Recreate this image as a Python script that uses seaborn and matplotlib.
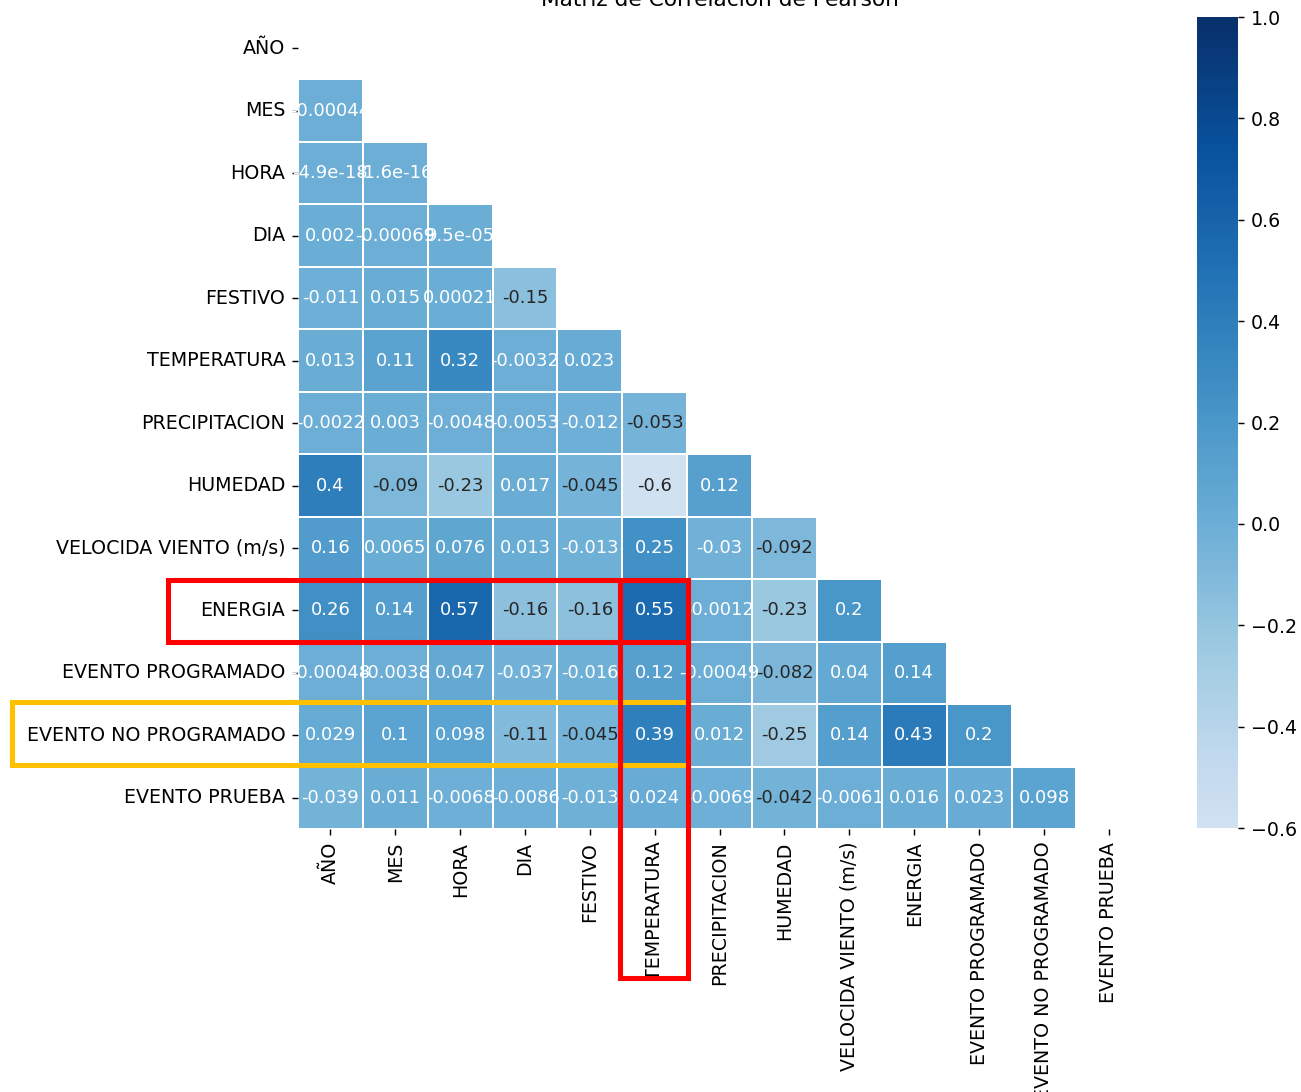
import numpy as np
import pandas as pd
import matplotlib
matplotlib.use('Agg')
import matplotlib.pyplot as plt
from matplotlib.patches import Rectangle
import seaborn as sns

VARIABLES = ['AÑO', 'MES', 'HORA', 'DIA', 'FESTIVO', 'TEMPERATURA', 'PRECIPITACION',
             'HUMEDAD', 'VELOCIDA VIENTO (m/s)', 'ENERGIA', 'EVENTO PROGRAMADO',
             'EVENTO NO PROGRAMADO', 'EVENTO PRUEBA']

# triangulo inferior, fila por fila (sin la diagonal)
ROW_MES = [-0.00044]
ROW_HORA = [-4.9e-18, -1.6e-16]
ROW_DIA = [0.002, -0.00069, 9.5e-05]
ROW_FESTIVO = [-0.011, 0.015, 0.00021, -0.15]
ROW_TEMPERATURA = [0.013, 0.11, 0.32, -0.0032, 0.023]
ROW_PRECIPITACION = [-0.0022, 0.003, -0.0048, -0.0053, -0.012, -0.053]
ROW_HUMEDAD = [0.4, -0.09, -0.23, 0.017, -0.045, -0.6, 0.12]
ROW_VIENTO = [0.16, 0.0065, 0.076, 0.013, -0.013, 0.25, -0.03, -0.092]
ROW_ENERGIA = [0.26, 0.14, 0.57, -0.16, -0.16, 0.55, -0.0012, -0.23, 0.2]
ROW_EV_PROG = [-0.00048, -0.0038, 0.047, -0.037, -0.016, 0.12, -0.00049, -0.082, 0.04, 0.14]
ROW_EV_NO_PROG = [0.029, 0.1, 0.098, -0.11, -0.045, 0.39, 0.012, -0.25, 0.14, 0.43, 0.2]
ROW_EV_PRUEBA = [-0.039, 0.011, -0.0068, -0.0086, -0.013, 0.024, -0.0069, -0.042,
                 -0.0061, 0.016, 0.023, 0.098]

LOWER_ROWS = [[], ROW_MES, ROW_HORA, ROW_DIA, ROW_FESTIVO, ROW_TEMPERATURA,
              ROW_PRECIPITACION, ROW_HUMEDAD, ROW_VIENTO, ROW_ENERGIA, ROW_EV_PROG,
              ROW_EV_NO_PROG, ROW_EV_PRUEBA]

n = len(VARIABLES)
corr = np.eye(n)
for i, row in enumerate(LOWER_ROWS):
    for j, v in enumerate(row):
        corr[i, j] = v
        corr[j, i] = v
corr = pd.DataFrame(corr, index=VARIABLES, columns=VARIABLES)
mask = np.triu(np.ones_like(corr, dtype=bool))

fig = plt.figure(figsize=(10.01, 8.4), dpi=130)
ax = fig.add_axes([0.229, 0.2408, 0.648, 0.7436])
cax = fig.add_axes([0.920, 0.2417, 0.0315, 0.7427])

sns.heatmap(corr, mask=mask, cmap='Blues', vmin=-0.6, vmax=1.0, center=0,
            annot=True, linewidths=1, linecolor='white', ax=ax, cbar_ax=cax)
ax.set_title('Matriz de Correlación de Pearson')
ax.set_xticklabels(VARIABLES, rotation=90, fontsize=10.5)
ax.set_yticklabels(VARIABLES, rotation=0, fontsize=10.5)
cax.tick_params(labelsize=10.5)

# color del texto: oscuro solo en las celdas mas claras
for t in ax.texts:
    val = float(t.get_text())
    t.set_color('#262626' if val < -0.04 else 'white')

# recuadros resaltados (fila ENERGIA, columna TEMPERATURA, fila EVENTO NO PROGRAMADO)
r_en = VARIABLES.index('ENERGIA')
c_temp = VARIABLES.index('TEMPERATURA')
r_enp = VARIABLES.index('EVENTO NO PROGRAMADO')
lw = 2.8
ax.add_patch(Rectangle((-2.01, r_en + 0.02), c_temp + 3.02, 0.99, fill=False,
                       edgecolor='#ff0000', linewidth=lw, clip_on=False, zorder=5))
ax.add_patch(Rectangle((c_temp - 0.04, r_en + 0.02), 1.05, 6.36, fill=False,
                       edgecolor='#ff0000', linewidth=lw, clip_on=False, zorder=5))
ax.add_patch(Rectangle((-4.41, r_enp - 0.03), c_temp + 5.42, 1.0, fill=False,
                       edgecolor='#ffc000', linewidth=lw, clip_on=False, zorder=4))

plt.savefig('out.png', dpi=130)
plt.close()
